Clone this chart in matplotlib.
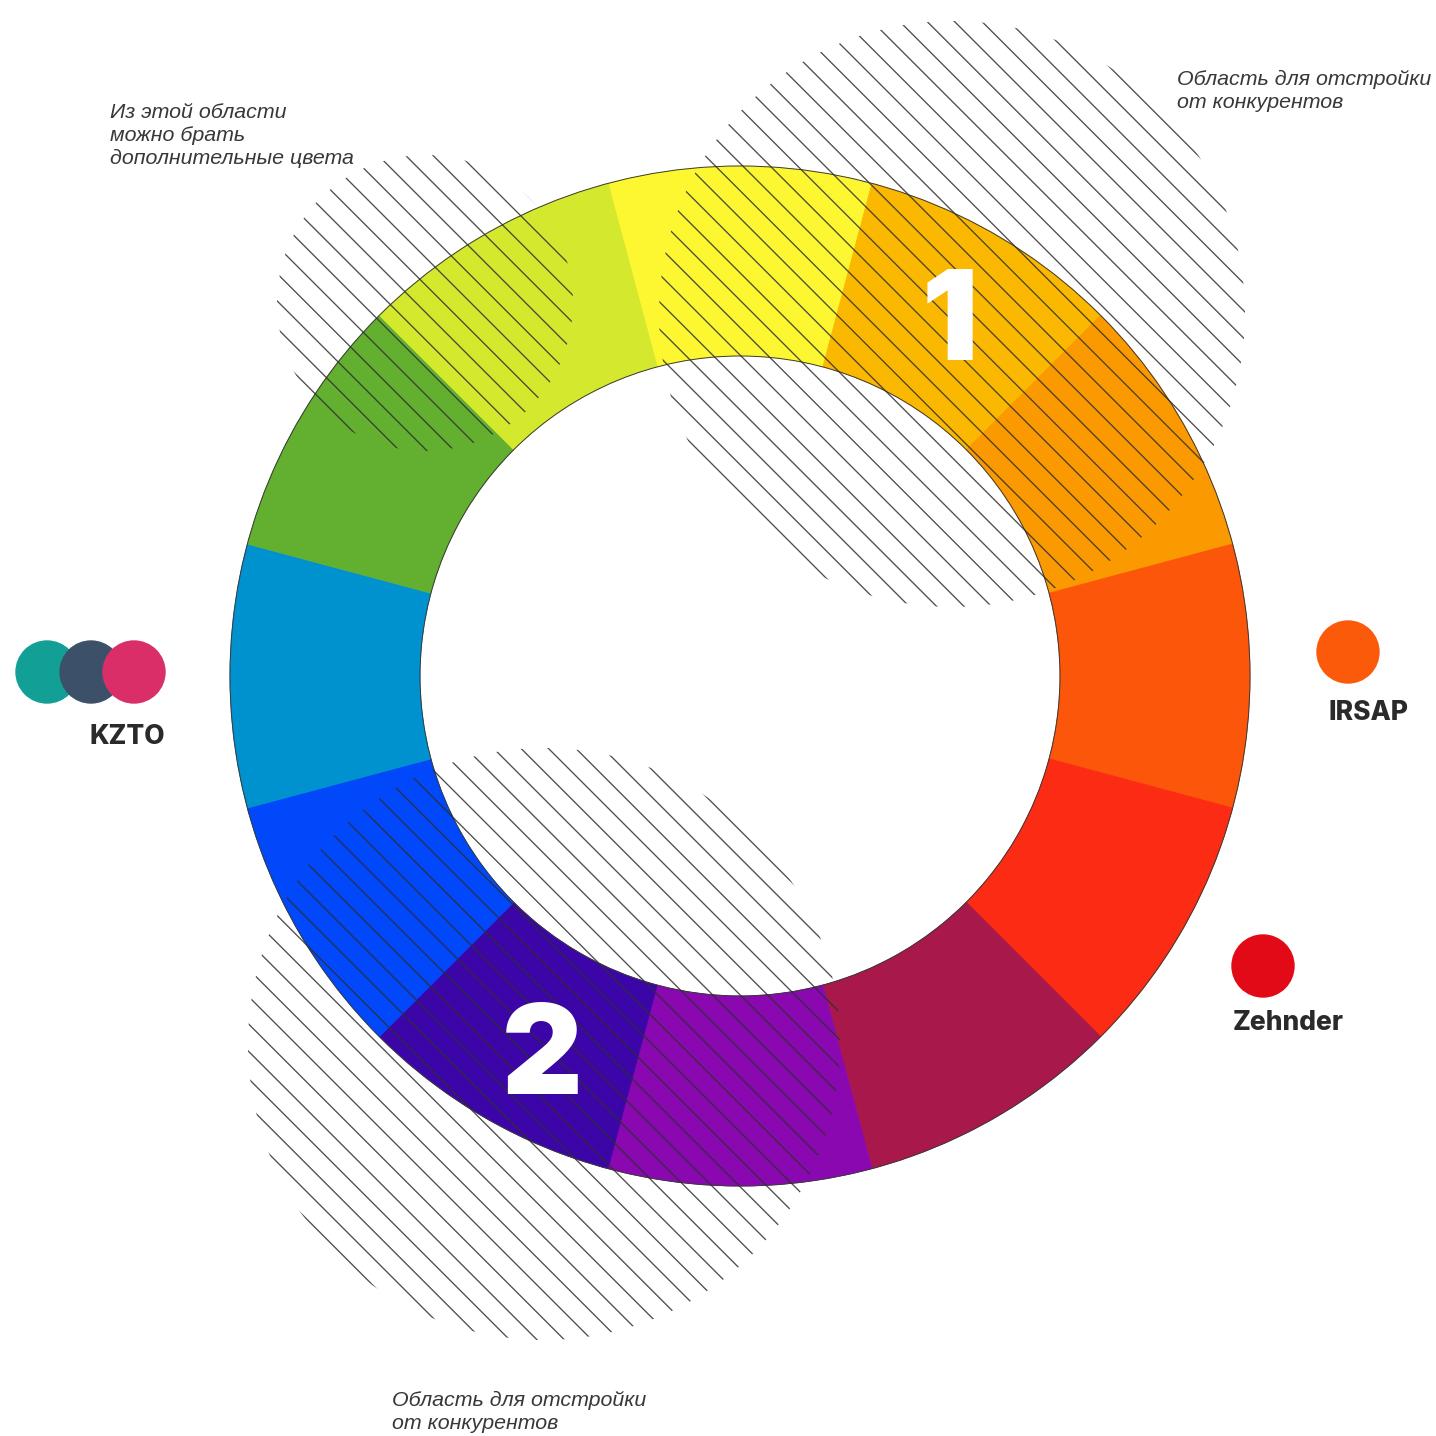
import numpy as np
import matplotlib
matplotlib.use('Agg')
import matplotlib.pyplot as plt
from matplotlib.patches import Circle
from matplotlib.collections import LineCollection

W = 1436  # canvas size in px, axes use px units with y going up

# colour wheel, clockwise from the top segment
wheel_colors = ['#FDF731', '#FBB800', '#FB9A00', '#FC560A', '#FC2B13', '#A8184A',
                '#8A08B0', '#3C05A8', '#0048FA', '#0092CF', '#63B031', '#D4E82D']
wheel_values = [1] * 12
wheel_center = (740, 760)
r_outer, r_inner = 510, 320

# hatched "areas": centre x, centre y, radius, line phase
hatch_x = [952, 425, 544]
hatch_y = [1122, 1133, 392]
hatch_r = [293, 148, 296]
hatch_phase = [1821, 1741, 688]
hatch_step = 27.4

# competitor dots
dot_names = ['KZTO', 'IRSAP', 'Zehnder']
dot_x = [[47, 91, 134], [1348], [1263]]
dot_y = [[764, 764, 764], [784], [470]]
dot_colors = [['#12A096', '#3C5169', '#D92E68'], ['#FC5A0B'], ['#E20A17']]
label_xy = [(127, 692), (1369, 716), (1288, 406)]

notes = ['Из этой области\nможно брать\nдополнительные цвета',
         'Область для отстройки\nот конкурентов',
         'Область для отстройки\nот конкурентов']
notes_xy = [(110, 1333), (1177, 1366), (392, 45)]

numbers = ['1', '2']
numbers_xy = [(950, 1076), (542, 342)]

fig = plt.figure(figsize=(14.36, 14.36), dpi=100)
ax = fig.add_axes([0, 0, 1, 1])

wedges, _ = ax.pie(wheel_values, colors=wheel_colors, startangle=105, counterclock=False,
                   radius=r_outer, center=wheel_center,
                   wedgeprops=dict(width=r_outer - r_inner, linewidth=0.6))
for w in wedges:
    w.set_edgecolor(w.get_facecolor())

for r in [r_outer, r_inner]:
    ax.add_patch(Circle(wheel_center, r, fill=False, edgecolor='#3a3a3a', lw=0.7, zorder=3))

# diagonal lines clipped to circles
for cx, cy, r, ph in zip(hatch_x, hatch_y, hatch_r, hatch_phase):
    ks = np.arange(ph - 80 * hatch_step, ph + 80 * hatch_step, hatch_step)
    segs = [[(k + 100, -100), (k - W - 100, W + 100)] for k in ks]
    lc = LineCollection(segs, colors='#2e2e2e', linewidths=0.95, alpha=0.85, zorder=4)
    ax.add_collection(lc)
    clip = Circle((cx, cy), r, transform=ax.transData)
    lc.set_clip_path(clip)

for txt, (x, y) in zip(numbers, numbers_xy):
    ax.text(x, y, txt, color='white', fontsize=90, fontfamily='Inter', fontweight='black',
            ha='center', va='baseline', zorder=6)

for xs, ys, cols in zip(dot_x, dot_y, dot_colors):
    for x, y, c in zip(xs, ys, cols):
        ax.add_patch(Circle((x, y), 31, color=c, zorder=5))

for name, (x, y) in zip(dot_names, label_xy):
    ax.text(x, y, name, color='#2a2a2a', fontsize=19, fontfamily='Inter', fontweight='heavy',
            ha='center', va='baseline', zorder=6)

for txt, (x, y) in zip(notes, notes_xy):
    ax.text(x, y, txt, color='#383838', fontsize=15.4, fontfamily='Liberation Sans', fontstyle='italic',
            ha='left', va='top', linespacing=1.28, zorder=6)

ax.set_xlim(0, W)
ax.set_ylim(0, W)
ax.set_aspect('equal')
ax.axis('off')

plt.savefig('out.png', dpi=100, facecolor='white')
